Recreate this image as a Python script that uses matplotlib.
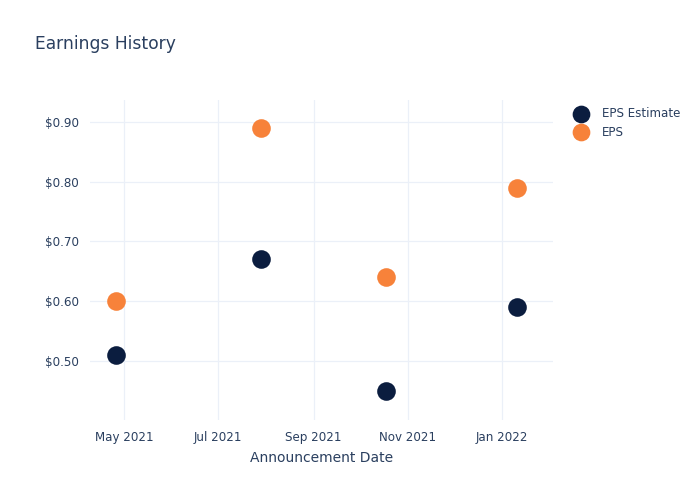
import pandas as pd
import matplotlib.pyplot as plt
import matplotlib.dates as mdates
from matplotlib.ticker import FuncFormatter

# announcement dates and EPS values
dates = pd.to_datetime(["2021-04-26", "2021-07-29", "2021-10-18", "2022-01-11"])
eps_estimate = [0.51, 0.67, 0.45, 0.59]
eps_actual = [0.60, 0.89, 0.64, 0.79]

TEXT = "#2a3f5f"
GRID = "#ebf0f8"
NAVY = "#0b1d3f"
ORANGE = "#f7823a"

fig = plt.figure(figsize=(7, 5), dpi=100)
ax = fig.add_axes([0.1286, 0.16, 0.661, 0.64])

ax.scatter(dates, eps_estimate, s=180, color=NAVY, label="EPS Estimate", zorder=3, linewidths=0)
ax.scatter(dates, eps_actual, s=180, color=ORANGE, label="EPS", zorder=3, linewidths=0)

ax.set_xlim(pd.Timestamp("2021-04-09"), pd.Timestamp("2022-02-03"))
ax.set_ylim(0.401, 0.937)
ax.set_yticks([0.5, 0.6, 0.7, 0.8, 0.9])
ax.yaxis.set_major_formatter(FuncFormatter(lambda v, _: f"${v:.2f}"))
ax.xaxis.set_major_locator(mdates.MonthLocator(bymonth=[1, 3, 5, 7, 9, 11]))
ax.xaxis.set_major_formatter(mdates.DateFormatter("%b %Y"))

ax.grid(True, color=GRID, linewidth=0.9)
ax.set_axisbelow(True)
for s in ax.spines.values():
    s.set_visible(False)
ax.tick_params(length=0, colors=TEXT, labelsize=8.6, pad=8)

ax.set_xlabel("Announcement Date", color=TEXT, fontsize=10, labelpad=5)
fig.text(0.05, 0.912, "Earnings History", color=TEXT, fontsize=12.3, va="center")

leg = ax.legend(loc="upper left", bbox_to_anchor=(1.02, 1.0), frameon=False,
                fontsize=8.6, handletextpad=0.75, labelspacing=0.45, borderaxespad=0.2,
                markerscale=0.95)
for t in leg.get_texts():
    t.set_color(TEXT)

fig.savefig("out.png")
